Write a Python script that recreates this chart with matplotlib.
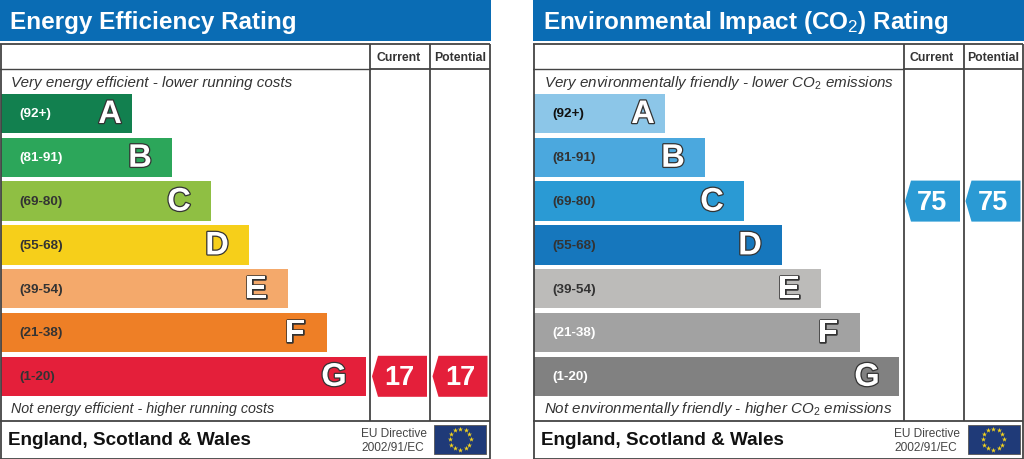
import numpy as np
import matplotlib
matplotlib.use("Agg")
import matplotlib.pyplot as plt
from matplotlib.patches import Polygon, Rectangle
import matplotlib.patheffects as pe

plt.rcParams['font.family'] = ['Liberation Sans', 'DejaVu Sans']
plt.rcParams['mathtext.fontset'] = 'custom'
plt.rcParams['mathtext.rm'] = 'Liberation Sans'
plt.rcParams['mathtext.it'] = 'Liberation Sans:italic'
plt.rcParams['mathtext.bf'] = 'Liberation Sans:bold'

bands = ['A', 'B', 'C', 'D', 'E', 'F', 'G']
ranges = ['(92+)', '(81-91)', '(69-80)', '(55-68)', '(39-54)', '(21-38)', '(1-20)']
band_lengths = [131, 171, 210, 248, 287, 326, 365]

energy_title = 'Energy Efficiency Rating'
energy_top = 'Very energy efficient - lower running costs'
energy_bottom = 'Not energy efficient - higher running costs'
energy_colors = ['#12804f', '#2ca65a', '#8fbf43', '#f6cf1a', '#f4a96b', '#ee7f26', '#e41f3a']
energy_label_colors = ['#ffffff', '#ffffff', '#333333', '#333333', '#333333', '#333333', '#333333']
energy_current = 17
energy_potential = 17

env_title = 'Environmental Impact (CO$_2$) Rating'
env_top = r'Very environmentally friendly - lower CO$_2$ emissions'
env_bottom = r'Not environmentally friendly - higher CO$_2$ emissions'
env_colors = ['#8cc6e8', '#4ba8de', '#2a9ad4', '#1677bd', '#bcbbb9', '#a2a2a2', '#818181']
env_label_colors = ['#111111', '#333333', '#333333', '#333333', '#333333', '#ffffff', '#ffffff']
env_current = 75
env_potential = 75

BLUE = '#0a6cb4'
LINE = '#444444'
W, H = 1024, 460
fig = plt.figure(figsize=(W / 100, H / 100), dpi=100, facecolor='white')


def band_of(v):
    lows = [92, 81, 69, 55, 39, 21, 1]
    for i, lo in enumerate(lows):
        if v >= lo:
            return i
    return 6


def arrow(ax, x0, yc, value, color):
    x1 = x0 + 55
    h = 20.5
    ax.add_patch(Polygon([(x0, yc), (x0 + 6, yc - h), (x1, yc - h), (x1, yc + h), (x0 + 6, yc + h)],
                         closed=True, fc=color, ec='none', zorder=3))
    ax.text(x0 + 27.5, yc + 0.5, str(value), color='white', fontsize=19.5, fontweight='bold',
            ha='center', va='center', zorder=4)


def flag(ax):
    ax.add_patch(Rectangle((434.5, 426), 52, 28.5, fc='#1f3a78', ec='#555555', lw=0.6, zorder=3))
    a = np.deg2rad(np.arange(0, 360, 30))
    ax.scatter(460.3 + 10.5 * np.cos(a), 440.3 + 10.5 * np.sin(a), marker='*', s=15, c='#f2d21e', lw=0, zorder=4)


def panel(left, title, top, bottom, bottom_size, colors, lab_colors, current, potential):
    ax = fig.add_axes([left / W, 0, 491 / W, 1])
    ax.set_xlim(0, 491)
    ax.set_ylim(H, 0)
    ax.axis('off')
    # header
    ax.add_patch(Rectangle((0, 0), 491, 41.5, fc=BLUE, ec='none'))
    ax.text(10, 22, title, color='white', fontsize=17.5, fontweight='bold', va='center', ha='left')
    # frame
    for xs, ys in [((0.5, 0.5), (44.5, 460)), ((490, 490), (44.5, 460)), ((0, 490), (44.5, 44.5)),
                   ((0, 490), (459.5, 459.5)), ((0, 490), (421.5, 421.5)),
                   ((370.5, 370.5), (44.5, 421.5)), ((430.5, 430.5), (44.5, 421.5)), ((370, 490), (69.5, 69.5))]:
        ax.plot(xs, ys, color=LINE, lw=1.3, solid_capstyle='butt', zorder=5)
    ax.plot((0, 370), (69.5, 69.5), color=LINE, lw=1.0, zorder=5)
    ax.text(399, 58, 'Current', fontsize=8.8, fontweight='bold', color='#333333', ha='center', va='center')
    ax.text(460, 58, 'Potential', fontsize=8.8, fontweight='bold', color='#333333', ha='center', va='center')
    ax.text(11, 82.5, top, fontsize=10.87, style='italic', color='#333333', va='center')
    ax.text(11, 409.5, bottom, fontsize=bottom_size, style='italic', color='#333333', va='center')
    # bands
    y = 114.5 + 43.8 * np.arange(len(bands))
    ax.barh(y, band_lengths, height=39.5, left=1, color=colors, zorder=2)
    for i, yy in enumerate(y):
        ax.text(19, yy, ranges[i], fontsize=9.7, color=lab_colors[i], va='center', ha='left', zorder=3,
                fontweight='bold')
        inset = 21 if i == 0 else 31
        t = ax.text(band_lengths[i] - inset, yy + 1, bands[i], fontsize=23.5, fontweight='bold', color='white',
                    ha='center', va='center', zorder=4)
        t.set_path_effects([pe.withStroke(linewidth=1.8, foreground='#333333')])
    # rating arrows
    arrow(ax, 372, y[band_of(current)], current, colors[band_of(current)])
    arrow(ax, 432.5, y[band_of(potential)], potential, colors[band_of(potential)])
    # footer
    ax.text(8, 440.5, 'England, Scotland & Wales', fontsize=13.6, fontweight='bold', color='#111111', va='center')
    ax.text(361, 434.5, 'EU Directive', fontsize=8.6, color='#444444', va='center')
    ax.text(361, 448, '2002/91/EC', fontsize=8.6, color='#444444', va='center')
    flag(ax)


panel(0, energy_title, energy_top, energy_bottom, 10.3, energy_colors, energy_label_colors, energy_current, energy_potential)
panel(533, env_title, env_top, env_bottom, 10.87, env_colors, env_label_colors, env_current, env_potential)

fig.savefig('out.png', dpi=100)
